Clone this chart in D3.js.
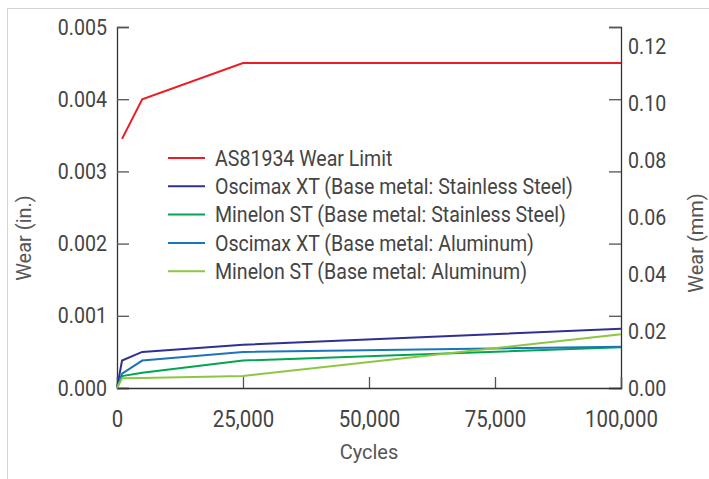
<!DOCTYPE html>
<html>
<head>
<meta charset="utf-8">
<script src="https://cdn.jsdelivr.net/npm/d3@7"></script>
<style>
    body { margin: 0; background: #fff; }
    text { font-family: "Roboto", sans-serif; }
</style>
</head>
<body>
<div id="chart"></div>
<script>
// cycles at which wear was measured
const cycles = [0, 1000, 5000, 25000, 100000]

// wear in inches, one list per series
const wearLimit = [null, 0.00345, 0.0040, 0.0045, 0.0045]
const oscimaxSS = [0, 0.00038, 0.00050, 0.00060, 0.00082]
const minelonSS = [0, 0.000165, 0.00021, 0.00038, 0.000565]
const oscimaxAl = [0, 0.00020, 0.00038, 0.00050, 0.00057]
const minelonAl = [0, 0.000135, 0.00014, 0.000167, 0.000745]

const seriesNames = [
    "AS81934 Wear Limit",
    "Oscimax XT (Base metal: Stainless Steel)",
    "Minelon ST (Base metal: Stainless Steel)",
    "Oscimax XT (Base metal: Aluminum)",
    "Minelon ST (Base metal: Aluminum)"
]
const seriesColors = ["#ed1c24", "#2e3192", "#00a651", "#1b75bb", "#8dc63f"]

const xTicks = [0, 25000, 50000, 75000, 100000]
const yTicksIn = [0, 0.001, 0.002, 0.003, 0.004, 0.005]
const yTicksMm = [0, 0.02, 0.04, 0.06, 0.08, 0.10, 0.12]

function chart(id) {

    const width = 709;
    const height = 479;
    const left = 117, right = 621, top = 27, bottom = 388;
    const textColor = "#444";
    const squeeze = 0.89 // the original font is a condensed one

    const svg = d3.select(id).append("svg")
        .attr("width", width)
        .attr("height", height)

    //light frame round the figure
    svg.append("rect")
        .attr("x", 7.5).attr("y", 8.5)
        .attr("width", width).attr("height", height)
        .attr("fill", "none")
        .attr("stroke", "#d4d4d4")

    const x = d3.scaleLinear().domain([0, 100000]).range([left, right])
    const y = d3.scaleLinear().domain([0, 0.005]).range([bottom, top])
    // 0.005 in = 0.127 mm
    const yMm = d3.scaleLinear().domain([0, 0.127]).range([bottom, top])

    //Left axis, ticks point inward
    const gl = svg.append("g")
        .attr("transform", `translate(${left},0)`)
        .call(d3.axisRight(y).tickValues(yTicksIn).tickSize(12).tickFormat(d3.format(".3f")))
    gl.selectAll("text")
        .attr("x", -10 / squeeze)
        .attr("text-anchor", "end")
        .attr("transform", `scale(${squeeze},1)`)
        .style("font-size", "22px")

    //Right axis: tick marks mirror the left ones, labels in mm
    svg.append("g")
        .attr("transform", `translate(${right},0)`)
        .call(d3.axisLeft(y).tickValues(yTicksIn).tickSize(12).tickFormat(""))
    const gr = svg.append("g")
        .attr("transform", `translate(${right},0)`)
        .call(d3.axisRight(yMm).tickValues(yTicksMm).tickSize(0).tickFormat(d3.format(".2f")))
    gr.select(".domain").remove()
    gr.selectAll("text")
        .attr("x", 7 / squeeze)
        .attr("transform", `scale(${squeeze},1)`)
        .style("font-size", "22px")

    //Bottom axis, ticks point up
    const gb = svg.append("g")
        .attr("transform", `translate(0,${bottom})`)
        .call(d3.axisTop(x).tickValues(xTicks).tickSize(11).tickFormat(d3.format(",")))
    gb.selectAll("text")
        .attr("y", 22).attr("dy", "0.71em")
        .attr("transform", "scale(0.85,1)")
        .style("font-size", "24px")

    svg.selectAll(".domain").attr("stroke", "#333").attr("stroke-width", 1.3)
    svg.selectAll(".tick line").attr("stroke", "#555").attr("stroke-width", 1.3)
    svg.selectAll(".tick text").attr("fill", textColor)

    //axis titles
    svg.append("text")
        .attr("transform", `translate(31,238) rotate(-90)`)
        .attr("text-anchor", "middle")
        .attr("fill", "#555")
        .style("font-size", "20px")
        .text("Wear (in.)")

    svg.append("text")
        .attr("transform", `translate(703,243) rotate(-90)`)
        .attr("text-anchor", "middle")
        .attr("fill", "#555")
        .style("font-size", "20px")
        .text("Wear (mm)")

    svg.append("text")
        .attr("x", x(50000)).attr("y", 459)
        .attr("text-anchor", "middle")
        .attr("fill", "#555")
        .style("font-size", "20px")
        .text("Cycles")

    //Lines
    const series = [wearLimit, oscimaxSS, minelonSS, oscimaxAl, minelonAl]
    const line = d3.line()
        .defined(d => d[1] != null)
        .x(d => x(d[0]))
        .y(d => y(d[1]))

    svg.append("g")
        .attr("fill", "none")
        .attr("stroke-width", 2)
        .selectAll()
        .data(series)
        .join("path")
            .attr("stroke", (d, i) => seriesColors[i])
            .attr("d", d => line(cycles.map((c, j) => [c, d[j]])))

    //Legend
    const legend = svg.append("g")
        .attr("transform", "translate(168,158)")
        .selectAll()
        .data(seriesNames)
        .join("g")
            .attr("transform", (d, i) => `translate(0,${i * 28.3})`)

    legend.append("line")
        .attr("x1", 0).attr("x2", 37)
        .attr("stroke", (d, i) => seriesColors[i])
        .attr("stroke-width", 2)

    legend.append("text")
        .attr("transform", `translate(47,0) scale(${squeeze},1)`)
        .attr("dy", "0.35em")
        .attr("fill", textColor)
        .style("font-size", "22px")
        .text(d => d)

    return svg.node()
}

chart("#chart")
</script>
</body>
</html>
